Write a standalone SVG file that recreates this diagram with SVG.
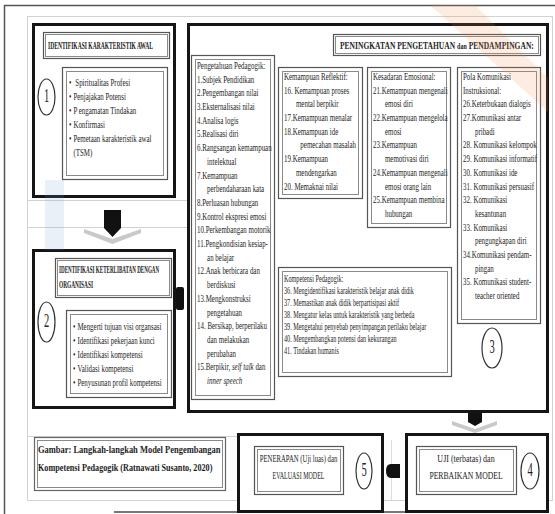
<svg xmlns="http://www.w3.org/2000/svg" width="555" height="514" viewBox="0 0 555 514">
<style>
.thick{fill:#fff;stroke:#151515;stroke-width:3}
.dbo{fill:#fff;stroke:#555;stroke-width:1.2}
.dbi{fill:none;stroke:#8a8a8a;stroke-width:1}
.t{font-family:"Liberation Serif","Times New Roman",serif;font-size:11px;fill:#1e1e1e}
.k{font-family:"Liberation Serif","Times New Roman",serif;font-size:10.5px;fill:#1e1e1e}
.h{font-family:"Liberation Serif","Times New Roman",serif;font-weight:bold;font-size:10px;fill:#1e1e1e}
.g{font-family:"Liberation Serif","Times New Roman",serif;font-weight:bold;font-size:11px;fill:#1e1e1e}
.c{font-family:"Liberation Serif","Times New Roman",serif;font-size:10px;fill:#1e1e1e;text-anchor:middle}
.num{font-family:"Liberation Serif","Times New Roman",serif;font-size:15px;fill:#222;text-anchor:middle}
.ring{fill:#fff;stroke:#333;stroke-width:1.2}
.faint{stroke:#d2d2d2;stroke-width:1;fill:none}
.arw{fill:#111}
.chev{fill:#c9c9c9}
</style>
<rect x="0" y="0" width="555" height="514" fill="#fff"/>
<g id="page">
<line x1="4" y1="5.5" x2="555" y2="5.5" stroke="#555" stroke-width="1.5"/>
<line x1="4.5" y1="5" x2="4.5" y2="514" stroke="#555" stroke-width="1.5"/>
<rect class="faint" x="27.5" y="16.5" width="525" height="484"/>
<line class="faint" x1="28" y1="200.5" x2="188" y2="200.5"/>
<line class="faint" x1="28" y1="227.5" x2="188" y2="227.5" stroke="#bbb"/>
<line class="faint" x1="28" y1="436.5" x2="238" y2="436.5"/>
<line x1="114" y1="512" x2="438" y2="512" stroke="#777" stroke-width="2"/>
</g>
<g id="node-1">
<rect class="thick" x="33.5" y="24.5" width="141" height="172"/>
<rect class="dbo" x="43.5" y="32.5" width="126" height="26"/>
<rect class="dbi" x="45.5" y="34.5" width="122" height="22"/>
<text class="h" transform="translate(48 49) scale(0.557 1)">IDENTIFIKASI KARAKTERISTIK AWAL</text>
<ellipse class="ring" cx="46.5" cy="97" rx="8.5" ry="18"/>
<text class="num" transform="translate(46.5 102) scale(0.7 1.2)">1</text>
<rect class="dbo" x="62.5" y="67.5" width="105" height="112"/>
<rect class="dbi" x="66.5" y="71.5" width="97" height="104"/>
<g transform="translate(69 0) scale(0.63 1)">
<text class="t" x="0" y="86">•</text><text class="t" x="10" y="86">Spiritualitas Profesi</text>
<text class="t" x="0" y="100">•</text><text class="t" x="7" y="100">Penjajakan Potensi</text>
<text class="t" x="0" y="114">•</text><text class="t" x="7" y="114">P engamatan Tindakan</text>
<text class="t" x="0" y="128">•</text><text class="t" x="7" y="128">Konfirmasi</text>
<text class="t" x="0" y="142">•</text><text class="t" x="7" y="142">Pemetaan karakteristik awal</text>
<text class="t" x="7" y="156">(TSM)</text>
</g>
</g>
<g id="node-2">
<rect class="thick" x="33.5" y="250.5" width="141" height="157"/>
<rect class="dbo" x="55.5" y="258.5" width="116" height="39"/>
<rect class="dbi" x="57.5" y="260.5" width="112" height="35"/>
<text class="h" transform="translate(59 273) scale(0.508 1)">IDENTIFIKASI KETERLIBATAN DENGAN</text>
<text class="h" transform="translate(59 288) scale(0.537 1)">ORGANISASI</text>
<ellipse class="ring" cx="46.5" cy="322" rx="8.5" ry="20"/>
<text class="num" transform="translate(46.5 327) scale(0.7 1.2)">2</text>
<rect class="dbo" x="66.5" y="310.5" width="105" height="87"/>
<rect class="dbi" x="70.5" y="314.5" width="97" height="79"/>
<g transform="translate(73 0) scale(0.63 1)">
<text class="t" x="0" y="330">•</text><text class="t" x="7" y="330">Mengerti tujuan visi organsasi</text>
<text class="t" x="0" y="344">•</text><text class="t" x="7" y="344">Identifikasi pekerjaan kunci</text>
<text class="t" x="0" y="358">•</text><text class="t" x="7" y="358">Identifikasi kompetensi</text>
<text class="t" x="0" y="372">•</text><text class="t" x="7" y="372">Validasi kompetensi</text>
<text class="t" x="0" y="386">•</text><text class="t" x="7" y="386">Penyusunan profil kompetensi</text>
</g>
</g>
<g id="node-3">
<rect class="thick" x="188.5" y="24.5" width="359" height="387"/>
<rect class="dbo" x="333.5" y="34.5" width="207" height="21"/>
<rect class="dbi" x="335.5" y="36.5" width="203" height="17"/>
<text class="h" transform="translate(340 49) scale(0.753 1)">PENINGKATAN PENGETAHUAN <tspan font-size="8">dan</tspan> PENDAMPINGAN:</text>
<g id="pengetahuan">
<rect class="dbo" x="191.5" y="55.5" width="83" height="344"/>
<rect class="dbi" x="195.5" y="59.5" width="75" height="336"/>
<g transform="translate(197 0) scale(0.63 1)">
<text class="t" x="0" y="69">Pengetahuan Pedagogik:</text>
<text class="t" x="0" y="82.7">1.Subjek Pendidikan</text>
<text class="t" x="0" y="96.4">2.Pengembangan nilai</text>
<text class="t" x="0" y="110.1">3.Eksternalisasi nilai</text>
<text class="t" x="0" y="123.8">4.Analisa logis</text>
<text class="t" x="0" y="137.5">5.Realisasi diri</text>
<text class="t" x="0" y="151.2">6.Rangsangan kemampuan</text>
<text class="t" x="16" y="164.9">intelektual</text>
<text class="t" x="0" y="178.6">7.Kemampuan</text>
<text class="t" x="16" y="192.3">perbendaharaan kata</text>
<text class="t" x="0" y="206">8.Perluasan hubungan</text>
<text class="t" x="0" y="219.7">9.Kontrol ekspresi emosi</text>
<text class="t" x="0" y="233.4">10.Perkembangan motorik</text>
<text class="t" x="0" y="247.1">11.Pengkondisian  kesiap-</text>
<text class="t" x="16" y="260.8">an belajar</text>
<text class="t" x="0" y="274.5">12.Anak berbicara dan</text>
<text class="t" x="16" y="288.2">berdiskusi</text>
<text class="t" x="0" y="301.9">13.Mengkonstruksi</text>
<text class="t" x="16" y="315.6">pengetahuan</text>
<text class="t" x="0" y="329.3">14. Bersikap, berperilaku</text>
<text class="t" x="16" y="343">dan melakukan</text>
<text class="t" x="16" y="356.7">perubahan</text>
<text class="t" x="0" y="370.4">15.Berpikir, <tspan font-style="italic">self talk</tspan> dan</text>
<text class="t" x="16" y="384.1" font-style="italic">inner speech</text>
</g>
</g>
<g id="reflektif">
<rect class="dbo" x="278.5" y="67.5" width="84" height="131"/>
<rect class="dbi" x="282.5" y="71.5" width="76" height="123"/>
<g transform="translate(284 0) scale(0.63 1)">
<text class="t" x="0" y="80">Kemampuan Reflektif:</text>
<text class="t" x="0" y="93.7">16. Kemampuan proses</text>
<text class="t" x="19" y="107.4">mental berpikir</text>
<text class="t" x="0" y="121.1">17.Kemampuan menalar</text>
<text class="t" x="0" y="134.8">18.Kemampuan ide</text>
<text class="t" x="26" y="148.5">pemecahan masalah</text>
<text class="t" x="0" y="162.2">19.Kemampuan</text>
<text class="t" x="19" y="175.9">mendengarkan</text>
<text class="t" x="0" y="189.6">20. Memaknai nilai</text>
</g>
</g>
<g id="emosional">
<rect class="dbo" x="367.5" y="67.5" width="83" height="160"/>
<rect class="dbi" x="371.5" y="71.5" width="75" height="152"/>
<g transform="translate(373 0) scale(0.63 1)">
<text class="t" x="0" y="80">Kesadaran Emosional:</text>
<text class="t" x="0" y="93.7">21.Kemampuan mengenali</text>
<text class="t" x="19" y="107.4">emosi diri</text>
<text class="t" x="0" y="121.1">22.Kemampuan mengelola</text>
<text class="t" x="19" y="134.8">emosi</text>
<text class="t" x="0" y="148.5">23.Kemampuan</text>
<text class="t" x="19" y="162.2">memotivasi diri</text>
<text class="t" x="0" y="175.9">24.Kemampuan mengenali</text>
<text class="t" x="19" y="189.6">emosi orang lain</text>
<text class="t" x="0" y="203.3">25.Kemampuan membina</text>
<text class="t" x="19" y="217">hubungan</text>
</g>
</g>
<g id="komunikasi">
<rect class="dbo" x="457.5" y="67.5" width="83" height="256"/>
<rect class="dbi" x="461.5" y="71.5" width="75" height="248"/>
<g transform="translate(463 0) scale(0.63 1)">
<text class="t" x="0" y="80">Pola Komunikasi</text>
<text class="t" x="0" y="93.7">Instruksional:</text>
<text class="t" x="0" y="107.4">26.Keterbukaan dialogis</text>
<text class="t" x="0" y="121.1">27.Komunikasi antar</text>
<text class="t" x="19" y="134.8">pribadi</text>
<text class="t" x="0" y="148.5">28. Komunikasi kelompok</text>
<text class="t" x="0" y="162.2">29. Komunikasi informatif</text>
<text class="t" x="0" y="175.9">30. Komunikasi ide</text>
<text class="t" x="0" y="189.6">31. Komunikasi persuasif</text>
<text class="t" x="0" y="203.3">32. Komunikasi</text>
<text class="t" x="19" y="217">kesantunan</text>
<text class="t" x="0" y="230.7">33. Komunikasi</text>
<text class="t" x="19" y="244.4">pengungkapan diri</text>
<text class="t" x="0" y="258.1">34.Komunikasi pendam-</text>
<text class="t" x="19" y="271.8">pingan</text>
<text class="t" x="0" y="285.5">35. Komunikasi student-</text>
<text class="t" x="19" y="299.2">teacher oriented</text>
</g>
</g>
<g id="kompetensi">
<rect class="dbo" x="278.5" y="267.5" width="173" height="109"/>
<rect class="dbi" x="282.5" y="271.5" width="165" height="101"/>
<g transform="translate(284 0) scale(0.59 1)">
<text class="k" x="0" y="282">Kompetensi Pedagogik:</text>
<text class="k" x="0" y="294">36. Mengidentifikasi karakteristik belajar anak didik</text>
<text class="k" x="0" y="306">37. Memastikan anak didik berpartisipasi aktif</text>
<text class="k" x="0" y="318">38. Mengatur kelas untuk karakteristik yang berbeda</text>
<text class="k" x="0" y="330">39. Mengetahui penyebab penyimpangan perilaku belajar</text>
<text class="k" x="0" y="342">40. Mengembangkan potensi dan kekurangan</text>
<text class="k" x="0" y="354">41. Tindakan humanis</text>
</g>
</g>
<ellipse class="ring" cx="492" cy="348" rx="10" ry="20"/>
<text class="num" transform="translate(492 353) scale(0.7 1.2)">3</text>
</g>
<g id="caption">
<rect x="34.5" y="437.5" width="191" height="53" fill="#fff" stroke="#666" stroke-width="1.2"/>
<rect class="dbi" x="37.5" y="440.5" width="185" height="47" stroke="#bbb"/>
<text class="g" transform="translate(38 453) scale(0.77 1)">Gambar: Langkah-langkah Model Pengembangan</text>
<text class="g" transform="translate(38 471) scale(0.745 1)">Kompetensi Pedagogik  (Ratnawati Susanto, 2020)</text>
</g>
<g id="node-5">
<rect class="thick" x="238.5" y="434.5" width="144" height="77"/>
<rect class="dbo" x="254.5" y="446.5" width="89" height="48"/>
<rect class="dbi" x="257.5" y="449.5" width="83" height="42"/>
<text class="c" transform="translate(298.5 462) scale(0.673 1)">PENERAPAN (Uji luas)  dan</text>
<text class="c" transform="translate(298.5 479) scale(0.6 1)">EVALUASI MODEL</text>
<ellipse class="ring" cx="364" cy="471" rx="8" ry="18"/>
<text class="num" transform="translate(364 476) scale(0.7 1.2)">5</text>
</g>
<g id="node-4">
<rect class="thick" x="406.5" y="434.5" width="141" height="77"/>
<rect class="dbo" x="416.5" y="446.5" width="100" height="48"/>
<rect class="dbi" x="419.5" y="449.5" width="94" height="42"/>
<text class="c" transform="translate(466 462) scale(0.8 1)">UJI (terbatas)  dan</text>
<text class="c" transform="translate(466 479) scale(0.77 1)">PERBAIKAN MODEL</text>
<ellipse class="ring" cx="530" cy="471" rx="9" ry="18"/>
<text class="num" transform="translate(530 476) scale(0.7 1.2)">4</text>
</g>
<g id="connectors">
<polygon class="chev" points="84,229 112.5,239 141,229 141,233 112.5,244 84,233"/>
<polygon class="arw" points="104,210 121,210 121,228 112.5,237 104,228"/>
<rect class="arw" x="176" y="287" width="8" height="23" rx="2"/>
<polygon class="chev" points="452,421 475,429 497,421 497,425 475,433 452,425"/>
<polygon class="arw" points="468,413 482,413 482,422 475,426 468,422"/>
<line x1="391.5" y1="440" x2="391.5" y2="500" stroke="#ddd" stroke-width="1"/>
<path class="arw" d="M400,464 L400,478 L391,478 Q386,478 386,471 Q386,464 391,464 Z"/>
</g>
<g id="watermark" opacity="0.16">
<polygon points="430,5 475,5 548,78 548,112" fill="#f08a4b"/>
<rect x="45" y="180" width="19" height="70" fill="#7fa3d0"/>
</g>
</svg>
